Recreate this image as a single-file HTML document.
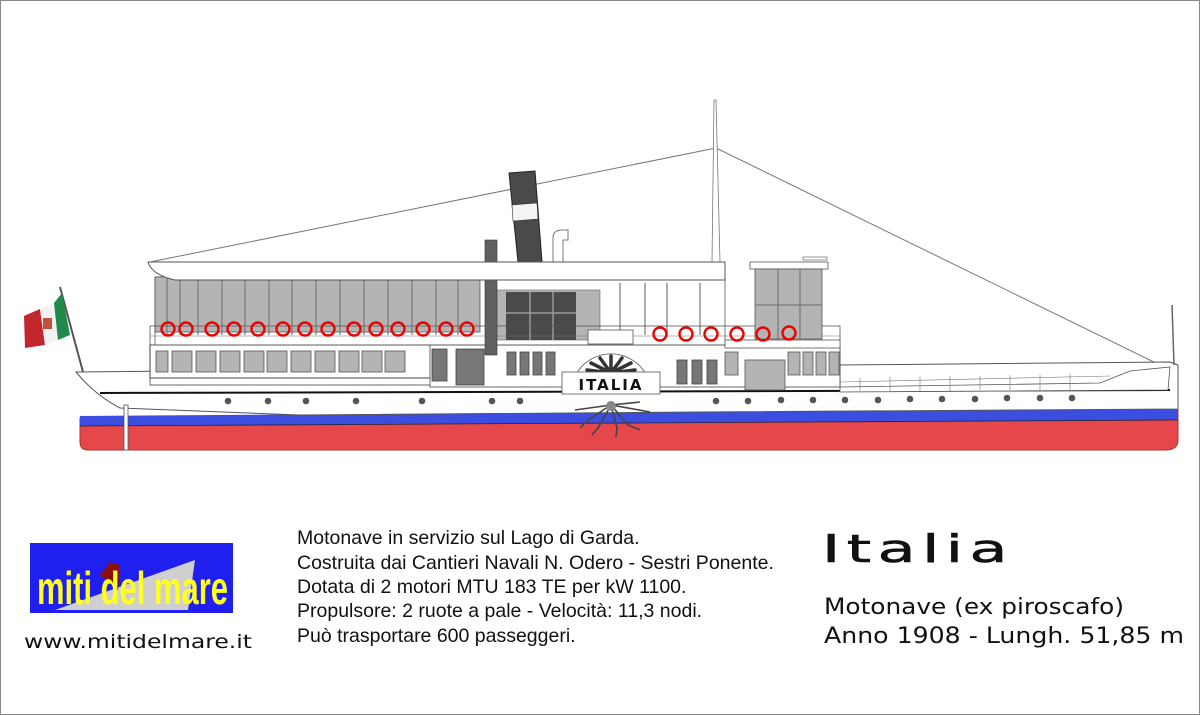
<!DOCTYPE html>
<html><head><meta charset="utf-8"><style>
body{margin:0;background:#fff}
svg{display:block}
</style></head><body>
<svg width="1200" height="715" viewBox="0 0 1200 715" xmlns="http://www.w3.org/2000/svg">
<rect x="0.5" y="0.5" width="1199" height="714" fill="#fff" stroke="#888"/>
<line x1="150" y1="262" x2="716" y2="148" stroke="#777" stroke-width="1"/>
<line x1="716" y1="148" x2="1162" y2="366" stroke="#777" stroke-width="1"/>
<polygon points="714,100 716,100 720,262 712,262" fill="#fff" stroke="#777" stroke-width="0.8"/>
<polygon points="509,173 535,171 542,262 518,262" fill="#4a4a4a" stroke="#222"/>
<polygon points="512,205 537,203 538,219 513,221" fill="#f4f4f4" stroke="#333" stroke-width="0.6"/>
<path d="M553,262 V238 Q553,230 562,230 L568,230 V240 L563,240 V262 Z" fill="#fff" stroke="#777"/>
<path d="M80,418 L1178,410 L1178,440 Q1178,450 1165,450 L88,450 Q80,450 80,442 Z" fill="#e5474a" stroke="#a33" stroke-width="1"/>
<path d="M80,416 L1178,408 L1178,420 L80,426 Z" fill="#3c4ee0"/>
<line x1="80" y1="426" x2="1178" y2="420" stroke="#223" stroke-width="0.8"/>
<path d="M76,372 L1170,362 L1178,365 L1178,409 L700,412 L300,415 L120,408 Q95,395 76,372 Z" fill="#fff" stroke="#555" stroke-width="1"/>
<line x1="100" y1="393" x2="1170" y2="390" stroke="#111" stroke-width="2"/>
<rect x="124" y="405" width="4" height="45" fill="#fff" stroke="#555" stroke-width="0.8"/>
<g fill="#555">
<circle cx="228" cy="401" r="3.3"/><circle cx="268" cy="401" r="3.3"/><circle cx="306" cy="401" r="3.3"/><circle cx="356" cy="401" r="3.3"/><circle cx="422" cy="401" r="3.3"/><circle cx="492" cy="401" r="3.3"/><circle cx="520" cy="401" r="3.3"/>
<circle cx="716" cy="401" r="3.3"/><circle cx="748" cy="401" r="3.3"/><circle cx="781" cy="400" r="3.3"/><circle cx="813" cy="400" r="3.3"/><circle cx="845" cy="400" r="3.3"/><circle cx="878" cy="400" r="3.3"/><circle cx="910" cy="399" r="3.3"/><circle cx="942" cy="399" r="3.3"/><circle cx="975" cy="399" r="3.3"/><circle cx="1007" cy="398" r="3.3"/><circle cx="1040" cy="398" r="3.3"/><circle cx="1072" cy="398" r="3.3"/>
</g>
<circle cx="1163" cy="382" r="4" fill="#333"/>
<path d="M840,387 L1100,383 L1130,371 L1170,367 L1168,390 L840,392 Z" fill="#fff" stroke="#555" stroke-width="0.8"/>
<line x1="840" y1="382" x2="1110" y2="376" stroke="#777" stroke-width="0.6"/>
<g stroke="#777" stroke-width="0.6"><line x1="860" y1="378" x2="860" y2="391"/><line x1="890" y1="377" x2="890" y2="391"/><line x1="920" y1="377" x2="920" y2="391"/><line x1="950" y1="376" x2="950" y2="391"/><line x1="980" y1="376" x2="980" y2="390"/><line x1="1010" y1="375" x2="1010" y2="390"/><line x1="1040" y1="375" x2="1040" y2="390"/><line x1="1070" y1="374" x2="1070" y2="390"/></g>
<line x1="1172" y1="305" x2="1174" y2="365" stroke="#666" stroke-width="1.5"/>
<rect x="150" y="345" width="290" height="33" fill="#fff" stroke="#444"/>
<rect x="150" y="345" width="690" height="40" fill="none" stroke="#444" stroke-width="0.8"/>
<rect x="430" y="345" width="410" height="42" fill="#fff" stroke="#444" stroke-width="0.8"/>
<g fill="#b4b4b4" stroke="#555" stroke-width="0.8">
<rect x="156" y="351" width="12" height="21"/><rect x="172" y="351" width="20" height="21"/><rect x="196" y="351" width="20" height="21"/><rect x="220" y="351" width="20" height="21"/><rect x="244" y="351" width="20" height="21"/><rect x="267" y="351" width="20" height="21"/><rect x="291" y="351" width="20" height="21"/><rect x="315" y="351" width="20" height="21"/><rect x="339" y="351" width="20" height="21"/><rect x="362" y="351" width="20" height="21"/><rect x="385" y="351" width="20" height="21"/>
<rect x="725" y="352" width="13" height="23"/><rect x="745" y="360" width="40" height="30"/><rect x="788" y="352" width="12" height="23"/><rect x="803" y="352" width="10" height="23"/><rect x="816" y="352" width="10" height="23"/><rect x="829" y="352" width="10" height="23"/>
</g>
<g fill="#777" stroke="#444" stroke-width="0.8">
<rect x="432" y="349" width="15" height="32"/><rect x="456" y="349" width="28" height="36"/>
<rect x="507" y="352" width="9" height="23"/><rect x="520" y="352" width="9" height="23"/><rect x="533" y="352" width="9" height="23"/><rect x="546" y="352" width="9" height="23"/>
<rect x="677" y="360" width="10" height="24"/><rect x="692" y="360" width="10" height="24"/><rect x="707" y="360" width="10" height="24"/>
</g>
<rect x="155" y="277" width="570" height="68" fill="#fff" stroke="#555" stroke-width="0.8"/>
<rect x="155" y="277" width="325" height="55" fill="#b4b4b4" stroke="#555" stroke-width="0.8"/>
<g stroke="#777" stroke-width="1.2">
<line x1="167" y1="277" x2="167" y2="335"/><line x1="180" y1="277" x2="180" y2="335"/><line x1="198" y1="277" x2="198" y2="335"/><line x1="222" y1="277" x2="222" y2="335"/><line x1="245" y1="277" x2="245" y2="335"/><line x1="269" y1="277" x2="269" y2="335"/><line x1="292" y1="277" x2="292" y2="335"/><line x1="316" y1="277" x2="316" y2="335"/><line x1="340" y1="277" x2="340" y2="335"/><line x1="364" y1="277" x2="364" y2="335"/><line x1="388" y1="277" x2="388" y2="335"/><line x1="412" y1="277" x2="412" y2="335"/><line x1="436" y1="277" x2="436" y2="335"/><line x1="458" y1="277" x2="458" y2="335"/>
<line x1="620" y1="283" x2="620" y2="335"/><line x1="645" y1="283" x2="645" y2="335"/><line x1="667" y1="283" x2="667" y2="335"/><line x1="700" y1="283" x2="700" y2="335"/>
</g>
<rect x="488" y="290" width="112" height="50" fill="#b4b4b4" stroke="#666" stroke-width="0.6"/>
<rect x="506" y="292" width="70" height="48" fill="#4a4a4a"/>
<g stroke="#999" stroke-width="1.5"><line x1="530" y1="292" x2="530" y2="340"/><line x1="553" y1="292" x2="553" y2="340"/><line x1="506" y1="313" x2="576" y2="313"/></g>
<rect x="150" y="326" width="690" height="19" fill="none" stroke="#555" stroke-width="0.8"/>
<line x1="150" y1="336" x2="840" y2="336" stroke="#777" stroke-width="0.6"/>
<rect x="588" y="330" width="45" height="14" fill="#fff" stroke="#555" stroke-width="0.8"/>
<rect x="485" y="240" width="12" height="115" fill="#606060" stroke="#333" stroke-width="0.6"/>
<path d="M148,262 L725,262 L725,280 L175,280 Q152,275 148,262 Z" fill="#fff" stroke="#555"/>
<rect x="750" y="262" width="78" height="7" fill="#fff" stroke="#555" stroke-width="0.8"/>
<rect x="803" y="257" width="24" height="3" fill="#fff" stroke="#555" stroke-width="0.6"/>
<rect x="755" y="269" width="67" height="70" fill="#b4b4b4" stroke="#555" stroke-width="0.8"/>
<g stroke="#777" stroke-width="1.2"><line x1="778" y1="269" x2="778" y2="339"/><line x1="800" y1="269" x2="800" y2="339"/><line x1="755" y1="305" x2="822" y2="305"/></g>
<rect x="725" y="340" width="115" height="8" fill="#fff" stroke="#555" stroke-width="0.8"/>
<g fill="none" stroke="#e00" stroke-width="2.4">
<circle cx="168" cy="329" r="6.5"/><circle cx="186" cy="329" r="6.5"/><circle cx="212" cy="329" r="6.5"/><circle cx="234" cy="329" r="6.5"/><circle cx="258" cy="329" r="6.5"/><circle cx="283" cy="329" r="6.5"/><circle cx="305" cy="329" r="6.5"/><circle cx="328" cy="329" r="6.5"/><circle cx="354" cy="329" r="6.5"/><circle cx="376" cy="329" r="6.5"/><circle cx="398" cy="329" r="6.5"/><circle cx="423" cy="329" r="6.5"/><circle cx="446" cy="329" r="6.5"/><circle cx="467" cy="329" r="6.5"/>
<circle cx="660" cy="334" r="6.5"/><circle cx="686" cy="334" r="6.5"/><circle cx="711" cy="334" r="6.5"/><circle cx="737" cy="334" r="6.5"/><circle cx="763" cy="334" r="6.5"/><circle cx="789" cy="333" r="6.5"/>
</g>
<path d="M572,385 A40,40 0 0 1 650,385 Z" fill="#fff" stroke="#555" stroke-width="0.8"/>
<g stroke="#333" stroke-width="3.5" stroke-linecap="round">
<line x1="611" y1="373" x2="611" y2="356"/><line x1="611" y1="373" x2="600" y2="358"/><line x1="611" y1="373" x2="622" y2="358"/><line x1="611" y1="373" x2="591" y2="363"/><line x1="611" y1="373" x2="631" y2="363"/><line x1="611" y1="373" x2="587" y2="370"/><line x1="611" y1="373" x2="635" y2="370"/>
</g>
<rect x="562" y="372" width="98" height="22" fill="#fff" stroke="#555" stroke-width="0.8"/>
<text x="611" y="390" text-anchor="middle" font-family="DejaVu Sans, sans-serif" font-weight="bold" font-size="15" letter-spacing="2" fill="#111">ITALIA</text>
<g stroke="#444" stroke-width="1.6" fill="none">
<path d="M611,405 L575,410 M611,405 L588,420 L580,428 M611,405 L598,428 L592,435 M611,405 L617,428 L616,437 M611,405 L628,425 L640,430 M611,405 L650,412 M611,405 L640,402"/>
</g>
<circle cx="611" cy="406" r="5" fill="#888"/>
<line x1="60" y1="287" x2="83" y2="372" stroke="#555" stroke-width="2"/>
<polygon points="24,316 40,309 45,345 25,348" fill="#c2272d"/>
<polygon points="40,309 54,303 58,340 45,345" fill="#f2f2f2"/>
<polygon points="54,303 62,293 70,335 58,340" fill="#1f8a4c"/>
<rect x="43" y="318" width="9" height="11" fill="#c0503a"/>
<rect x="30" y="543" width="203" height="70" fill="#1f1ff0"/>
<polygon points="55,610 195,560 188,610" fill="#cfcfcf"/>
<polygon points="100,575 110,562 120,565 118,590" fill="#8a1010"/>
<text x="37" y="604" font-family="Liberation Sans Narrow, Liberation Sans, sans-serif" font-weight="bold" font-size="46" fill="#ffff20" textLength="191" lengthAdjust="spacingAndGlyphs">miti del mare</text>
<text x="24" y="648" font-family="DejaVu Sans, sans-serif" font-size="19" fill="#111" textLength="228" lengthAdjust="spacingAndGlyphs">www.mitidelmare.it</text>
<g font-family="Liberation Sans, sans-serif" font-size="19.5" fill="#111">
<text x="297" y="544">Motonave in servizio sul Lago di Garda.</text>
<text x="297" y="569">Costruita dai Cantieri Navali N. Odero - Sestri Ponente.</text>
<text x="297" y="593">Dotata di 2 motori MTU 183 TE per kW 1100.</text>
<text x="297" y="617">Propulsore: 2 ruote a pale - Velocità: 11,3 nodi.</text>
<text x="297" y="642">Può trasportare 600 passeggeri.</text>
</g>
<text x="822" y="562" font-family="DejaVu Sans, sans-serif" font-size="38" fill="#111" stroke="#111" stroke-width="0.6" letter-spacing="4" textLength="192" lengthAdjust="spacingAndGlyphs">Italia</text>
<text x="824" y="614" font-family="DejaVu Sans, sans-serif" font-size="22" fill="#111" textLength="300" lengthAdjust="spacingAndGlyphs">Motonave (ex piroscafo)</text>
<text x="824" y="643" font-family="DejaVu Sans, sans-serif" font-size="22" fill="#111" textLength="360" lengthAdjust="spacingAndGlyphs">Anno 1908 - Lungh. 51,85 m</text>
</svg>
</body></html>
